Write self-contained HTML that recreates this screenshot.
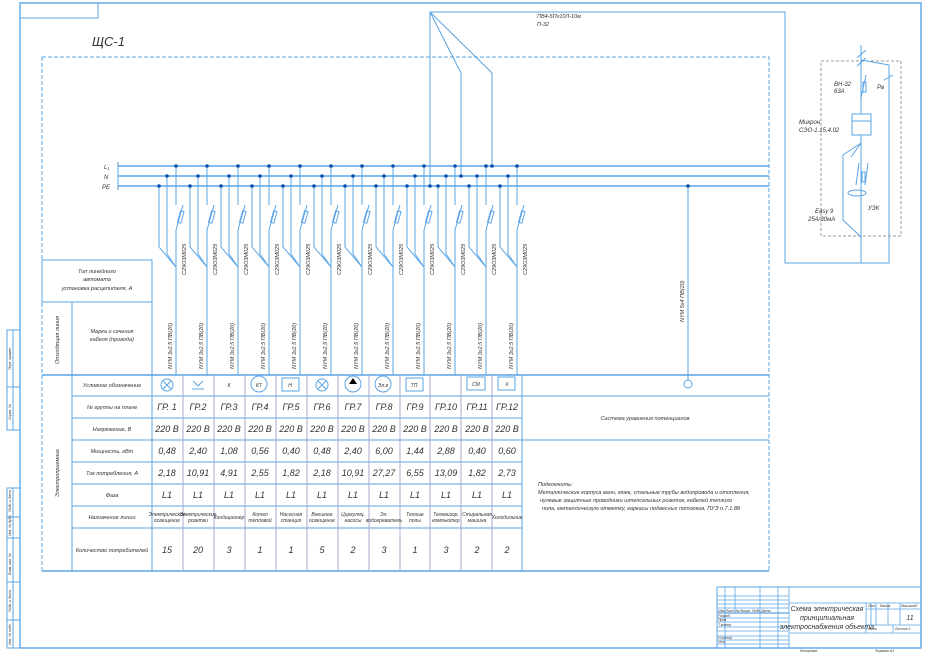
<!DOCTYPE html>
<html><head><meta charset="utf-8">
<style>
html,body{margin:0;padding:0;background:#fff;}
svg{display:block;}
text{font-family:"Liberation Sans",sans-serif;font-style:italic;fill:#333;}
</style></head><body>
<svg width="926" height="653" viewBox="0 0 926 653" xmlns="http://www.w3.org/2000/svg">
<g fill="none" stroke="#5aa5e6" stroke-width="1">
<!-- frame -->
<rect x="20" y="3" width="901" height="645" stroke-width="1.4"/>
<rect x="20" y="3" width="78" height="15"/>
<!-- left stamp -->
<rect x="7" y="330" width="13" height="100"/><line x1="13" y1="330" x2="13" y2="430"/><line x1="7" y1="387" x2="20" y2="387"/>
<rect x="7" y="488" width="13" height="160"/><line x1="13" y1="488" x2="13" y2="648"/>
<line x1="7" y1="517" x2="20" y2="517"/><line x1="7" y1="538" x2="20" y2="538"/><line x1="7" y1="582" x2="20" y2="582"/><line x1="7" y1="620" x2="20" y2="620"/>
<!-- dashed panel -->
<rect x="42" y="57" width="727" height="514" stroke-dasharray="4,2"/>
<!-- buses -->
<line x1="118" y1="166" x2="769" y2="166" stroke-width="1.4"/>
<line x1="118" y1="176" x2="769" y2="176" stroke-width="1.4"/>
<line x1="118" y1="186" x2="769" y2="186" stroke-width="1.4"/>
<line x1="118" y1="162" x2="118" y2="190"/>
<!-- feed -->
<polyline points="430,186 430,12 785,12 785,263 889,263 889,65"/>
<polyline points="430,12 461,73 461,176"/>
<polyline points="430,12 492,73 492,166"/>
<line x1="688" y1="186" x2="688" y2="380"/>
<circle cx="688" cy="384" r="4"/>
<!-- right input -->
<rect x="821" y="61" width="80" height="175" stroke="#999" stroke-dasharray="3,2"/>
<line x1="861" y1="45" x2="861" y2="98"/>
<line x1="857" y1="58" x2="866" y2="50"/><line x1="857" y1="66" x2="866" y2="58"/>
<line x1="861" y1="60" x2="889" y2="65"/>
<line x1="884" y1="80" x2="893" y2="75"/>
<line x1="861" y1="98" x2="866" y2="75"/>
<rect x="863" y="82" width="3" height="10"/>
<line x1="861" y1="97" x2="861" y2="114"/>
<rect x="852" y="114" width="19" height="21"/><line x1="852" y1="121" x2="871" y2="121"/>
<line x1="861" y1="135" x2="861" y2="263"/>
<polyline points="861,143 843,155 843,220 861,237"/>
<line x1="851" y1="157" x2="861" y2="143"/>
<line x1="856" y1="185" x2="859" y2="163"/><line x1="865" y1="185" x2="868" y2="163"/>
<rect x="862" y="172" width="3" height="10"/>
<ellipse cx="857" cy="193" rx="9" ry="3"/>
<!-- table outlines -->
<rect x="42" y="260" width="110" height="42"/>
<line x1="42" y1="302" x2="152" y2="302"/>
<line x1="72" y1="302" x2="72" y2="571"/>
<line x1="152" y1="260" x2="152" y2="571"/>
<line x1="42" y1="375" x2="769" y2="375" stroke-width="1.4"/>
<line x1="72" y1="396" x2="769" y2="396"/>
<line x1="72" y1="418" x2="522" y2="418"/>
<line x1="72" y1="440" x2="769" y2="440"/>
<line x1="72" y1="462" x2="522" y2="462"/>
<line x1="72" y1="484" x2="522" y2="484"/>
<line x1="72" y1="506" x2="522" y2="506"/>
<line x1="72" y1="528" x2="522" y2="528"/>
<line x1="42" y1="571" x2="769" y2="571" stroke-width="1.4"/>
<line x1="522" y1="375" x2="522" y2="571"/>
<g stroke="#aac">
<line x1="183" y1="375" x2="183" y2="571"/><line x1="214" y1="375" x2="214" y2="571"/><line x1="245" y1="375" x2="245" y2="571"/><line x1="276" y1="375" x2="276" y2="571"/><line x1="307" y1="375" x2="307" y2="571"/><line x1="338" y1="375" x2="338" y2="571"/><line x1="369" y1="375" x2="369" y2="571"/><line x1="400" y1="375" x2="400" y2="571"/><line x1="430" y1="375" x2="430" y2="571"/><line x1="461" y1="375" x2="461" y2="571"/><line x1="492" y1="375" x2="492" y2="571"/>
</g>
<!-- groups -->
<g id="g0">
<polyline points="159,186 159,247 176,267"/><polyline points="167,176 167,254 176,267"/>
<line x1="176" y1="166" x2="176" y2="205"/><line x1="176" y1="230" x2="183" y2="205"/>
<rect x="179" y="211" width="3.5" height="12" transform="rotate(15 181 217)"/>
<line x1="176" y1="230" x2="176" y2="375"/>
</g>
<use href="#g0" x="31"/><use href="#g0" x="62"/><use href="#g0" x="93"/><use href="#g0" x="124"/><use href="#g0" x="155"/><use href="#g0" x="186"/><use href="#g0" x="217"/><use href="#g0" x="248"/><use href="#g0" x="279"/><use href="#g0" x="310"/><use href="#g0" x="341"/>
<!-- symbols -->
<circle cx="167" cy="385" r="6"/><line x1="163" y1="381" x2="171" y2="389"/><line x1="171" y1="381" x2="163" y2="389"/>
<polyline points="193,381 198,386 203,381"/><line x1="192" y1="389" x2="204" y2="389"/>
<circle cx="259" cy="384" r="8"/>
<rect x="282" y="378" width="17" height="13"/>
<circle cx="322" cy="385" r="6"/><line x1="318" y1="381" x2="326" y2="389"/><line x1="326" y1="381" x2="318" y2="389"/>
<circle cx="353" cy="384" r="8"/>
<circle cx="383" cy="384" r="8"/>
<rect x="406" y="378" width="17" height="13"/>
<rect x="467" y="377" width="18" height="13"/>
<rect x="498" y="377" width="17" height="13"/>
<!-- title block -->
<rect x="717" y="587" width="204" height="61"/>
<g stroke-width="0.8">
<line x1="725" y1="587" x2="725" y2="648"/><line x1="735" y1="587" x2="735" y2="613"/><line x1="760" y1="587" x2="760" y2="648"/><line x1="778" y1="587" x2="778" y2="648"/><line x1="789" y1="587" x2="789" y2="648"/>
<line x1="717" y1="596" x2="789" y2="596"/><line x1="717" y1="600" x2="789" y2="600"/><line x1="717" y1="604" x2="789" y2="604"/><line x1="717" y1="608" x2="789" y2="608"/>
<line x1="717" y1="613" x2="789" y2="613" stroke-width="1.2"/>
<line x1="717" y1="618" x2="789" y2="618"/><line x1="717" y1="622" x2="789" y2="622"/><line x1="717" y1="627" x2="789" y2="627"/><line x1="717" y1="631" x2="789" y2="631"/><line x1="717" y1="636" x2="789" y2="636"/><line x1="717" y1="640" x2="789" y2="640"/><line x1="717" y1="644" x2="789" y2="644"/>
<line x1="789" y1="603" x2="921" y2="603"/><line x1="789" y1="633" x2="921" y2="633"/>
<line x1="866" y1="603" x2="866" y2="633"/><line x1="866" y1="609" x2="921" y2="609"/><line x1="866" y1="625" x2="921" y2="625"/>
<line x1="871" y1="603" x2="871" y2="625"/><line x1="876" y1="603" x2="876" y2="625"/><line x1="888" y1="603" x2="888" y2="625"/><line x1="900" y1="603" x2="900" y2="625"/><line x1="893" y1="625" x2="893" y2="633"/>
</g>
</g>
<!-- dots -->
<g fill="#0d4fa8">
<circle cx="176" cy="166" r="1.8"/><circle cx="207" cy="166" r="1.8"/><circle cx="238" cy="166" r="1.8"/><circle cx="269" cy="166" r="1.8"/><circle cx="300" cy="166" r="1.8"/><circle cx="331" cy="166" r="1.8"/><circle cx="362" cy="166" r="1.8"/><circle cx="393" cy="166" r="1.8"/><circle cx="424" cy="166" r="1.8"/><circle cx="455" cy="166" r="1.8"/><circle cx="486" cy="166" r="1.8"/><circle cx="517" cy="166" r="1.8"/><circle cx="492" cy="166" r="1.8"/>
<circle cx="167" cy="176" r="1.8"/><circle cx="198" cy="176" r="1.8"/><circle cx="229" cy="176" r="1.8"/><circle cx="260" cy="176" r="1.8"/><circle cx="291" cy="176" r="1.8"/><circle cx="322" cy="176" r="1.8"/><circle cx="353" cy="176" r="1.8"/><circle cx="384" cy="176" r="1.8"/><circle cx="415" cy="176" r="1.8"/><circle cx="446" cy="176" r="1.8"/><circle cx="477" cy="176" r="1.8"/><circle cx="508" cy="176" r="1.8"/><circle cx="461" cy="176" r="1.8"/>
<circle cx="159" cy="186" r="1.8"/><circle cx="190" cy="186" r="1.8"/><circle cx="221" cy="186" r="1.8"/><circle cx="252" cy="186" r="1.8"/><circle cx="283" cy="186" r="1.8"/><circle cx="314" cy="186" r="1.8"/><circle cx="345" cy="186" r="1.8"/><circle cx="376" cy="186" r="1.8"/><circle cx="407" cy="186" r="1.8"/><circle cx="438" cy="186" r="1.8"/><circle cx="469" cy="186" r="1.8"/><circle cx="500" cy="186" r="1.8"/><circle cx="430" cy="186" r="1.8"/><circle cx="688" cy="186" r="1.8"/>
<polygon points="353,378 349,384 357,384" fill="#000"/>
</g>
<!-- texts -->
<text x="92" y="46" font-size="13">ЩС-1</text>
<text x="104" y="169" font-size="6">L₁</text><text x="104" y="179" font-size="6">N</text><text x="102" y="189" font-size="6">PE</text>
<text x="537" y="18" font-size="5.5">ПВ4-5Пх10Л-10м</text><text x="537" y="26" font-size="5.5">П-32</text>
<text x="834" y="86" font-size="6">ВН-32</text><text x="834" y="93" font-size="6">63А</text>
<text x="877" y="89" font-size="6">Рв</text>
<text x="799" y="124" font-size="6">Микрон</text><text x="799" y="132" font-size="6">СЭО-1.15.4.02</text>
<text x="815" y="213" font-size="6">Easy 9</text><text x="808" y="221" font-size="6">25А/30мА</text>
<text x="868" y="210" font-size="6">УЗК</text>
<g font-size="5.5" text-anchor="middle">
<text x="97" y="273">Тип линейного</text><text x="97" y="281">автомата</text><text x="97" y="290">установка расцепителя, А</text>
<text x="112" y="333">Марка и сечения</text><text x="112" y="341">кабеля (провода)</text>
<text transform="translate(59,340) rotate(-90)">Отходящая линия</text>
<text transform="translate(59,473) rotate(-90)">Электроприемник</text>
<text x="112" y="387">Условное обозначение</text>
<text x="112" y="409">№ группы на плане</text>
<text x="112" y="431">Напряжение, В</text>
<text x="112" y="453">Мощность, кВт</text>
<text x="112" y="475">Ток потребления, А</text>
<text x="112" y="497">Фаза</text>
<text x="112" y="519">Назначение линии</text>
<text x="112" y="552">Количество потребителей</text>
<text x="645" y="420">Система уравнения потенциалов</text>
</g>
<g font-size="5.5">
<text transform="translate(186,275) rotate(-90)">C29O3M025</text><text transform="translate(217,275) rotate(-90)">C29O3M025</text><text transform="translate(248,275) rotate(-90)">C29O3M025</text><text transform="translate(279,275) rotate(-90)">C29O3M025</text><text transform="translate(310,275) rotate(-90)">C29O3M025</text><text transform="translate(341,275) rotate(-90)">C29O3M025</text><text transform="translate(372,275) rotate(-90)">C29O3M025</text><text transform="translate(403,275) rotate(-90)">C29O3M025</text><text transform="translate(434,275) rotate(-90)">C29O3M025</text><text transform="translate(465,275) rotate(-90)">C29O3M025</text><text transform="translate(496,275) rotate(-90)">C29O3M025</text><text transform="translate(527,275) rotate(-90)">C29O3M025</text>
<text transform="translate(172,369) rotate(-90)">NYM 3x2,5 ПВ(20)</text><text transform="translate(203,369) rotate(-90)">NYM 3x2,5 ПВ(20)</text><text transform="translate(234,369) rotate(-90)">NYM 3x2,5 ПВ(20)</text><text transform="translate(265,369) rotate(-90)">NYM 3x2,5 ПВ(20)</text><text transform="translate(296,369) rotate(-90)">NYM 3x2,5 ПВ(20)</text><text transform="translate(327,369) rotate(-90)">NYM 3x2,5 ПВ(20)</text><text transform="translate(358,369) rotate(-90)">NYM 3x2,5 ПВ(20)</text><text transform="translate(389,369) rotate(-90)">NYM 3x2,5 ПВ(20)</text><text transform="translate(420,369) rotate(-90)">NYM 3x2,5 ПВ(20)</text><text transform="translate(451,369) rotate(-90)">NYM 3x2,5 ПВ(20)</text><text transform="translate(482,369) rotate(-90)">NYM 3x2,5 ПВ(20)</text><text transform="translate(513,369) rotate(-90)">NYM 3x2,5 ПВ(20)</text>
<text transform="translate(684,322) rotate(-90)">NYM 5x4 ПВ(20)</text>
<text x="538" y="486">Подключить:</text>
<text x="538" y="494">Металлические корпуса ванн, моек, стальные трубы водопровода и отопления,</text>
<text x="540" y="502">нулевые защитные проводники штепсельных розеток, кабелей теплого</text>
<text x="542" y="510">пола, металлическую отметку, каркасы подвесных потолков, ПУЭ п.7.1.88</text>
</g>
<g font-size="5" fill="#333" text-anchor="middle">
<text x="229" y="387">К</text><text x="259" y="387">КТ</text><text x="290" y="387">Н</text><text x="383" y="387">Эл.в</text><text x="414" y="387">ТП</text><text x="476" y="386">СМ</text><text x="507" y="386">Х</text>
</g>
<g font-size="9" text-anchor="middle">
<text x="167" y="410">ГР. 1</text><text x="198" y="410">ГР.2</text><text x="229" y="410">ГР.3</text><text x="260" y="410">ГР.4</text><text x="291" y="410">ГР.5</text><text x="322" y="410">ГР.6</text><text x="353" y="410">ГР.7</text><text x="384" y="410">ГР.8</text><text x="415" y="410">ГР.9</text><text x="446" y="410">ГР.10</text><text x="477" y="410">ГР.11</text><text x="507" y="410">ГР.12</text>
<text x="167" y="432">220 В</text><text x="198" y="432">220 В</text><text x="229" y="432">220 В</text><text x="260" y="432">220 В</text><text x="291" y="432">220 В</text><text x="322" y="432">220 В</text><text x="353" y="432">220 В</text><text x="384" y="432">220 В</text><text x="415" y="432">220 В</text><text x="446" y="432">220 В</text><text x="477" y="432">220 В</text><text x="507" y="432">220 В</text>
<text x="167" y="454">0,48</text><text x="198" y="454">2,40</text><text x="229" y="454">1,08</text><text x="260" y="454">0,56</text><text x="291" y="454">0,40</text><text x="322" y="454">0,48</text><text x="353" y="454">2,40</text><text x="384" y="454">6,00</text><text x="415" y="454">1,44</text><text x="446" y="454">2,88</text><text x="477" y="454">0,40</text><text x="507" y="454">0,60</text>
<text x="167" y="476">2,18</text><text x="198" y="476">10,91</text><text x="229" y="476">4,91</text><text x="260" y="476">2,55</text><text x="291" y="476">1,82</text><text x="322" y="476">2,18</text><text x="353" y="476">10,91</text><text x="384" y="476">27,27</text><text x="415" y="476">6,55</text><text x="446" y="476">13,09</text><text x="477" y="476">1,82</text><text x="507" y="476">2,73</text>
<text x="167" y="498">L1</text><text x="198" y="498">L1</text><text x="229" y="498">L1</text><text x="260" y="498">L1</text><text x="291" y="498">L1</text><text x="322" y="498">L1</text><text x="353" y="498">L1</text><text x="384" y="498">L1</text><text x="415" y="498">L1</text><text x="446" y="498">L1</text><text x="477" y="498">L1</text><text x="507" y="498">L1</text>
<text x="167" y="553">15</text><text x="198" y="553">20</text><text x="229" y="553">3</text><text x="260" y="553">1</text><text x="291" y="553">1</text><text x="322" y="553">5</text><text x="353" y="553">2</text><text x="384" y="553">3</text><text x="415" y="553">1</text><text x="446" y="553">3</text><text x="477" y="553">2</text><text x="507" y="553">2</text>
</g>
<g font-size="5" text-anchor="middle">
<text x="167" y="516">Электрическое</text><text x="167" y="522">освещение</text>
<text x="198" y="516">Электрические</text><text x="198" y="522">розетки</text>
<text x="229" y="519">Кондиционер</text>
<text x="260" y="516">Котел</text><text x="260" y="522">тепловой</text>
<text x="291" y="516">Насосная</text><text x="291" y="522">станция</text>
<text x="322" y="516">Внешнее</text><text x="322" y="522">освещение</text>
<text x="353" y="516">Циркуляц.</text><text x="353" y="522">насосы</text>
<text x="384" y="516">Эл.</text><text x="384" y="522">водогреватель</text>
<text x="415" y="516">Теплые</text><text x="415" y="522">полы</text>
<text x="446" y="516">Телевизор,</text><text x="446" y="522">компьютер</text>
<text x="477" y="516">Стиральная</text><text x="477" y="522">машина</text>
<text x="507" y="519">Холодильник</text>
</g>
<g font-size="7" text-anchor="middle">
<text x="827" y="611">Схема электрическая</text><text x="827" y="620">принципиальная</text><text x="827" y="629">электроснабжения объекта</text>
<text x="910" y="620">11</text>
</g>
<g font-size="3.5">
<text x="718" y="612">Изм Лист  № докум.  Подп  Дата</text>
<text x="718" y="617">Разраб.</text><text x="718" y="621">Пров.</text><text x="718" y="626">Т.контр.</text><text x="718" y="639">Н.контр.</text><text x="718" y="643">Утв.</text>
<text x="868" y="607">Лит.</text><text x="880" y="607">Масса</text><text x="901" y="607">Масштаб</text>
<text x="868" y="630">Лист</text><text x="895" y="630">Листов  1</text>
<text x="800" y="652">Копировал</text><text x="875" y="652">Формат  А1</text>
</g>
<g font-size="3.5">
<text transform="translate(11,370) rotate(-90)">Перв. примен.</text><text transform="translate(11,420) rotate(-90)">Справ. №</text>
<text transform="translate(11,512) rotate(-90)">Подп. и дата</text><text transform="translate(11,536) rotate(-90)">Инв. № дубл.</text><text transform="translate(11,575) rotate(-90)">Взам. инв. №</text><text transform="translate(11,612) rotate(-90)">Подп. и дата</text><text transform="translate(11,645) rotate(-90)">Инв. № подл.</text>
</g>
</svg>
</body></html>
